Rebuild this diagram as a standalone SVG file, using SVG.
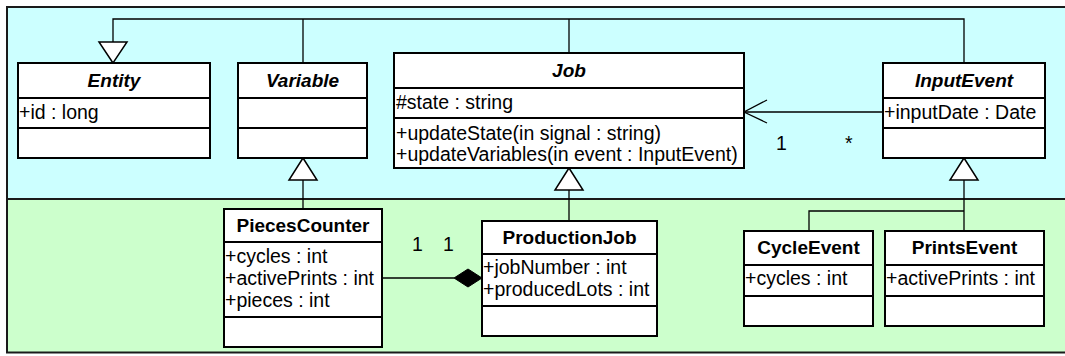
<svg xmlns="http://www.w3.org/2000/svg" width="1065" height="356" viewBox="0 0 1065 356">
<style>
.box{fill:#fff;stroke:#000;stroke-width:2}
.div{stroke:#000;stroke-width:2}
.t{font-family:"Liberation Sans",Arial,sans-serif;font-size:19.5px;fill:#000}
.ti{font-size:19px;font-weight:bold;font-style:italic;text-anchor:middle}
.tb{font-size:19px;font-weight:bold;text-anchor:middle}
.c{fill:none;stroke:#000;stroke-width:1.3}
.gen{fill:#fff;stroke:#000;stroke-width:1.5}
</style>
<g id="frame">
<rect x="7" y="7" width="1060" height="192" fill="#ccffff"/>
<rect x="7" y="199" width="1060" height="153" fill="#ccffcc"/>
<path d="M1066 7 H7 V352.5 H1066" fill="none" stroke="#1a1a1a" stroke-width="2"/>
<line x1="7" y1="199" x2="1066" y2="199" stroke="#1a1a1a" stroke-width="2"/>
</g>
<g id="connectors">
<path class="c" d="M113 42 V19 H964 V63"/>
<path class="c" d="M303 19 V63"/>
<path class="c" d="M569 19 V53"/>
<path class="c" d="M303 180 V209"/>
<path class="c" d="M569 190 V221"/>
<path class="c" d="M964 180 V231"/>
<path class="c" d="M964 211 H809 V231"/>
<path class="c" d="M744 112 H883"/>
<path class="c" d="M767 100 L744 112 L767 123"/>
<path class="c" d="M382 278 H454"/>
<polygon class="gen" points="113,63 99,42 127,42"/>
<polygon class="gen" points="303,158 289,180 317,180"/>
<polygon class="gen" points="569,168 555,190 583,190"/>
<polygon class="gen" points="964,158 950,180 978,180"/>
<polygon points="454,278 468,269 482,278 468,287" fill="#000" stroke="#000" stroke-width="1"/>
<text class="t" x="776" y="150">1</text>
<text class="t" x="845" y="150">*</text>
<text class="t" x="412" y="251">1</text>
<text class="t" x="443" y="251">1</text>
</g>
<g id="Entity">
<rect class="box" x="18" y="63" width="192" height="95"/>
<line class="div" x1="18" y1="98" x2="210" y2="98"/>
<line class="div" x1="18" y1="128" x2="210" y2="128"/>
<text class="t ti" x="114" y="87">Entity</text>
<text class="t" x="19" y="119">+id : long</text>
</g>
<g id="Variable">
<rect class="box" x="238" y="63" width="129" height="95"/>
<line class="div" x1="238" y1="98" x2="367" y2="98"/>
<line class="div" x1="238" y1="128" x2="367" y2="128"/>
<text class="t ti" x="302.5" y="87">Variable</text>
</g>
<g id="Job">
<rect class="box" x="394" y="53" width="350" height="115"/>
<line class="div" x1="394" y1="88" x2="744" y2="88"/>
<line class="div" x1="394" y1="118" x2="744" y2="118"/>
<text class="t ti" x="569" y="77">Job</text>
<text class="t" x="396" y="109">#state : string</text>
<text class="t" x="396" y="140">+updateState(in signal : string)</text>
<text class="t" x="396" y="161">+updateVariables(in event : InputEvent)</text>
</g>
<g id="InputEvent">
<rect class="box" x="883" y="63" width="162" height="95"/>
<line class="div" x1="883" y1="98" x2="1045" y2="98"/>
<line class="div" x1="883" y1="128" x2="1045" y2="128"/>
<text class="t ti" x="964" y="87">InputEvent</text>
<text class="t" x="884" y="119">+inputDate : Date</text>
</g>
<g id="PiecesCounter">
<rect class="box" x="224" y="209" width="158" height="138"/>
<line class="div" x1="224" y1="242" x2="382" y2="242"/>
<line class="div" x1="224" y1="317" x2="382" y2="317"/>
<text class="t tb" x="303" y="232">PiecesCounter</text>
<text class="t" x="225" y="263">+cycles : int</text>
<text class="t" x="225" y="285">+activePrints : int</text>
<text class="t" x="225" y="307">+pieces : int</text>
</g>
<g id="ProductionJob">
<rect class="box" x="482" y="221" width="175" height="115"/>
<line class="div" x1="482" y1="254" x2="657" y2="254"/>
<line class="div" x1="482" y1="306" x2="657" y2="306"/>
<text class="t tb" x="569.5" y="244">ProductionJob</text>
<text class="t" x="483" y="274">+jobNumber : int</text>
<text class="t" x="483" y="296">+producedLots : int</text>
</g>
<g id="CycleEvent">
<rect class="box" x="744" y="231" width="129" height="95"/>
<line class="div" x1="744" y1="265" x2="873" y2="265"/>
<line class="div" x1="744" y1="296" x2="873" y2="296"/>
<text class="t tb" x="808.5" y="254">CycleEvent</text>
<text class="t" x="745" y="285">+cycles : int</text>
</g>
<g id="PrintsEvent">
<rect class="box" x="885" y="231" width="159" height="95"/>
<line class="div" x1="885" y1="265" x2="1044" y2="265"/>
<line class="div" x1="885" y1="296" x2="1044" y2="296"/>
<text class="t tb" x="964.5" y="254">PrintsEvent</text>
<text class="t" x="886" y="285">+activePrints : int</text>
</g>
</svg>
